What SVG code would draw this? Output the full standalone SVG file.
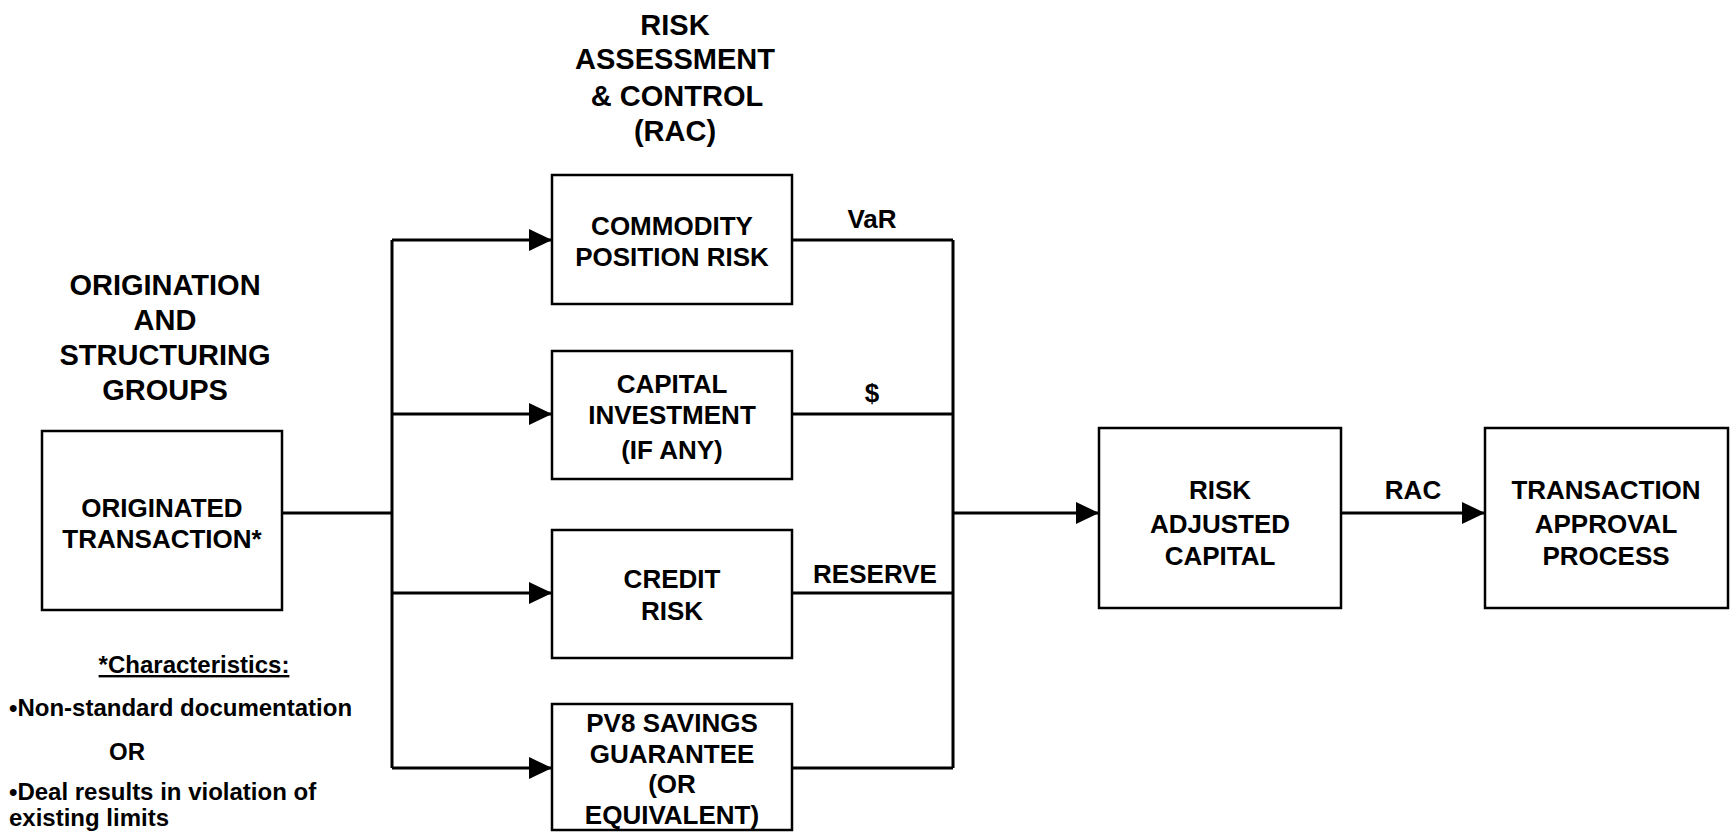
<svg xmlns="http://www.w3.org/2000/svg" width="1731" height="834" viewBox="0 0 1731 834">
<style>
.bg{fill:#fff}
.box{fill:#fff;stroke:#000;stroke-width:2.5}
.ln{fill:none;stroke:#000;stroke-width:3}
.t{font-family:"Liberation Sans",Arial,sans-serif;font-weight:bold;fill:#000;text-anchor:middle}
.h{font-size:29px}
.n{font-size:26px}
.s{font-size:24px}
.l{text-anchor:start}
</style>
<defs>
<marker id="ah" markerWidth="24" markerHeight="22" refX="23" refY="11" orient="auto" markerUnits="userSpaceOnUse">
<path d="M0,0 L23,11 L0,22 Z" fill="#000"/>
</marker>
</defs>
<rect class="bg" x="0" y="0" width="1731" height="834"/>

<g id="title-rac">
<text class="t h" x="675" y="35">RISK</text>
<text class="t h" x="675" y="69">ASSESSMENT</text>
<text class="t h" x="677" y="106">&amp; CONTROL</text>
<text class="t h" x="675" y="141">(RAC)</text>
</g>

<g id="title-origination">
<text class="t h" x="165" y="295">ORIGINATION</text>
<text class="t h" x="165" y="330">AND</text>
<text class="t h" x="165" y="365">STRUCTURING</text>
<text class="t h" x="165" y="400">GROUPS</text>
</g>

<g id="connectors">
<path class="ln" d="M282,513 H392"/>
<path class="ln" d="M392,240 V768"/>
<path class="ln" d="M392,240 H552" marker-end="url(#ah)"/>
<path class="ln" d="M392,414 H552" marker-end="url(#ah)"/>
<path class="ln" d="M392,593 H552" marker-end="url(#ah)"/>
<path class="ln" d="M392,768 H552" marker-end="url(#ah)"/>
<path class="ln" d="M792,240 H953"/>
<path class="ln" d="M792,414 H953"/>
<path class="ln" d="M792,593 H953"/>
<path class="ln" d="M792,768 H953"/>
<path class="ln" d="M953,240 V768"/>
<path class="ln" d="M953,513 H1099" marker-end="url(#ah)"/>
<path class="ln" d="M1341,513 H1485" marker-end="url(#ah)"/>
<text class="t n" x="872" y="228">VaR</text>
<text class="t n" x="872" y="402">$</text>
<text class="t n" x="875" y="583">RESERVE</text>
<text class="t n" x="1413" y="499">RAC</text>
</g>

<g id="originated">
<rect class="box" x="42" y="431" width="240" height="179"/>
<text class="t n" x="162" y="517">ORIGINATED</text>
<text class="t n" x="162" y="548">TRANSACTION*</text>
</g>

<g id="commodity">
<rect class="box" x="552" y="175" width="240" height="129"/>
<text class="t n" x="672" y="235">COMMODITY</text>
<text class="t n" x="672" y="266">POSITION RISK</text>
</g>

<g id="capital">
<rect class="box" x="552" y="351" width="240" height="128"/>
<text class="t n" x="672" y="393">CAPITAL</text>
<text class="t n" x="672" y="424">INVESTMENT</text>
<text class="t n" x="672" y="459">(IF ANY)</text>
</g>

<g id="credit">
<rect class="box" x="552" y="530" width="240" height="128"/>
<text class="t n" x="672" y="588">CREDIT</text>
<text class="t n" x="672" y="620">RISK</text>
</g>

<g id="pv8">
<rect class="box" x="552" y="704" width="240" height="126"/>
<text class="t n" x="672" y="732">PV8 SAVINGS</text>
<text class="t n" x="672" y="763">GUARANTEE</text>
<text class="t n" x="672" y="793">(OR</text>
<text class="t n" x="672" y="824">EQUIVALENT)</text>
</g>

<g id="rac-capital">
<rect class="box" x="1099" y="428" width="242" height="180"/>
<text class="t n" x="1220" y="499">RISK</text>
<text class="t n" x="1220" y="533">ADJUSTED</text>
<text class="t n" x="1220" y="565">CAPITAL</text>
</g>

<g id="approval">
<rect class="box" x="1485" y="428" width="243" height="180"/>
<text class="t n" x="1606" y="499">TRANSACTION</text>
<text class="t n" x="1606" y="533">APPROVAL</text>
<text class="t n" x="1606" y="565">PROCESS</text>
</g>

<g id="characteristics">
<text class="t s" x="194" y="673" text-decoration="underline">*Characteristics:</text>
<text class="t s l" x="9" y="716">•Non-standard documentation</text>
<text class="t s l" x="109" y="760">OR</text>
<text class="t s l" x="9" y="800">•Deal results in violation of</text>
<text class="t s l" x="9" y="826">existing limits</text>
</g>
</svg>
